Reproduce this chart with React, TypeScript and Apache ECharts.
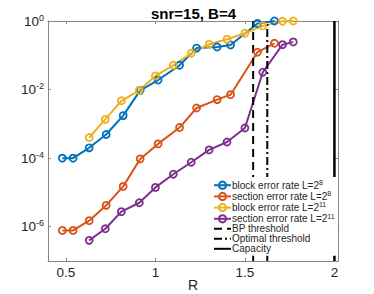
import React, { useEffect, useRef } from 'react';
import * as echarts from 'echarts';

// Rates R for L = 2^8 and L = 2^11 runs
const R_L8 = [0.48, 0.54, 0.63, 0.725, 0.82, 0.915, 1.015, 1.135, 1.23, 1.345, 1.42, 1.57, 1.665];
const R_L11 = [0.63, 0.72, 0.81, 0.91, 1.0, 1.1, 1.2, 1.3, 1.4, 1.5, 1.6, 1.71, 1.77];
// Error rates
const blockErrL8 = [1e-4, 1e-4, 2e-4, 4.9e-4, 1.74e-3, 9.5e-3, 1.9e-2, 5.1e-2, 0.162, 0.174, 0.2, 0.85, 1.0];
const sectionErrL8 = [7.8e-7, 7.8e-7, 1.5e-6, 4.2e-6, 1.5e-5, 9.5e-5, 2.6e-4, 7.8e-4, 2.9e-3, 5.1e-3, 7.1e-3, 0.123, 0.224];
const blockErrL11 = [4.0e-4, 1.35e-3, 4.7e-3, 9.5e-3, 2.5e-2, 5.1e-2, 0.115, 0.21, 0.295, 0.44, 0.72, 0.98, 1.0];
const sectionErrL11 = [4.0e-7, 8.7e-7, 2.75e-6, 5.0e-6, 1.4e-5, 3.4e-5, 7.6e-5, 1.74e-4, 2.95e-4, 7.6e-4, 3.2e-2, 0.204, 0.246];
// Thresholds
const BP_THRESHOLD = 1.546;
const OPTIMAL_THRESHOLD = 1.625;
const CAPACITY = 2;
// Axes
const X_RANGE = [0.4, 2.02];
const X_TICKS = [0.5, 1, 1.5, 2];
const Y_RANGE = [1e-7, 1];
const Y_TICK_VALUES = [1e-6, 1e-4, 1e-2, 1];
const SERIES_NAMES = [
  'block error rate L=2^8',
  'section error rate L=2^8',
  'block error rate L=2^11',
  'section error rate L=2^11',
  'BP threshold',
  'Optimal threshold',
  'Capacity',
];
const COLORS = ['#0072BD', '#D95319', '#EDB120', '#7E2F8E'];

const FONT = "'Liberation Sans', Arial, sans-serif";
const AXIS_COLOR = '#858585';
const TEXT_COLOR = '#262626';

export default function App() {
  const ref = useRef<HTMLDivElement>(null);

  useEffect(() => {
    if (!ref.current) return;
    const chart = echarts.init(ref.current, undefined, { renderer: 'svg' });
    const yLo = Math.log10(Y_RANGE[0]);
    const yHi = Math.log10(Y_RANGE[1]);
    const yTicks = Y_TICK_VALUES.map((v) => Math.log10(v));

    const dataSeries = (name: string, xs: number[], ys: number[], color: string) => ({
      name,
      type: 'line',
      data: xs.map((x, i) => [x, Math.log10(ys[i])]),
      symbol: 'circle',
      symbolSize: 7,
      showSymbol: true,
      clip: false,
      lineStyle: { color, width: 2 },
      itemStyle: { color: 'rgba(255,255,255,0)', borderColor: color, borderWidth: 1.8 },
      emphasis: { disabled: true },
    });
    const vline = (name: string, x: number, type: any, width: number) => ({
      name,
      type: 'line',
      data: [[x, yLo], [x, yHi]],
      symbol: 'none',
      clip: false,
      lineStyle: { color: '#000', width, type },
      itemStyle: { color: '#000', opacity: 0, borderWidth: 0 },
      emphasis: { disabled: true },
    });

    const axisCommon = {
      axisLine: { show: true, onZero: false, lineStyle: { color: AXIS_COLOR, width: 1 } },
      splitLine: { show: false },
    };

    chart.setOption({
      animation: false,
      title: {
        text: 'snr=15, B=4',
        left: 146,
        top: 1,
        textStyle: { fontFamily: FONT, fontSize: 15, fontWeight: 'bold', color: '#000' },
      },
      grid: { left: 48, right: 36, top: 21, bottom: 33, containLabel: false, outerBoundsMode: 'none' },
      legend: {
        orient: 'vertical',
        left: 211,
        top: 177,
        padding: [2, 3, 2, 2],
        itemGap: 0,
        itemWidth: 17,
        itemHeight: 9,
        backgroundColor: '#ffffff',
        data: SERIES_NAMES,
        formatter: (name: string) => {
          const m = name.match(/^(.*)\^(\d+)$/);
          if (m) return `{b|${m[1]}}{s|${m[2]}}`;
          return `{p|${name}}`;
        },
        textStyle: {
          fontFamily: FONT,
          fontSize: 10,
          color: TEXT_COLOR,
          padding: [0, 0, 0, -4],
          rich: {
            b: { fontFamily: FONT, fontSize: 10, lineHeight: 12.4, color: TEXT_COLOR },
            s: { fontFamily: FONT, fontSize: 7, lineHeight: 7, verticalAlign: 'top', color: TEXT_COLOR },
            p: { fontFamily: FONT, fontSize: 10, lineHeight: 9.2, color: TEXT_COLOR },
          },
        },
      },
      xAxis: [
        {
          type: 'value',
          min: X_RANGE[0],
          max: X_RANGE[1],
          position: 'bottom',
          ...axisCommon,
          name: 'R',
          nameLocation: 'middle',
          nameGap: 17,
          nameMoveOverlap: false,
          nameTextStyle: { fontFamily: FONT, fontSize: 14, color: TEXT_COLOR },
          axisTick: { show: true, inside: true, length: 3, customValues: X_TICKS, lineStyle: { color: AXIS_COLOR } },
          axisLabel: {
            customValues: X_TICKS,
            fontFamily: FONT,
            fontSize: 13.5,
            color: TEXT_COLOR,
            margin: 4,
            formatter: (v: number) => String(v),
          },
        },
        {
          type: 'value',
          min: X_RANGE[0],
          max: X_RANGE[1],
          position: 'top',
          ...axisCommon,
          axisTick: { show: true, inside: true, length: 3, customValues: X_TICKS, lineStyle: { color: AXIS_COLOR } },
          axisLabel: { show: false },
        },
      ],
      yAxis: [
        {
          type: 'value',
          min: yLo,
          max: yHi,
          position: 'left',
          ...axisCommon,
          axisTick: { show: true, inside: true, length: 3, customValues: yTicks, lineStyle: { color: AXIS_COLOR } },
          axisLabel: {
            customValues: yTicks,
            margin: 4,
            formatter: (v: number) => `{b|10}{s|${Math.round(v)}}`,
            rich: {
              b: { fontFamily: FONT, fontSize: 13.5, lineHeight: 16, color: TEXT_COLOR },
              s: { fontFamily: FONT, fontSize: 9, lineHeight: 8, verticalAlign: 'top', color: TEXT_COLOR },
            },
          },
        },
        {
          type: 'value',
          min: yLo,
          max: yHi,
          position: 'right',
          ...axisCommon,
          axisTick: { show: true, inside: true, length: 3, customValues: yTicks, lineStyle: { color: AXIS_COLOR } },
          axisLabel: { show: false },
        },
      ],
      series: [
        dataSeries(SERIES_NAMES[0], R_L8, blockErrL8, COLORS[0]),
        dataSeries(SERIES_NAMES[1], R_L8, sectionErrL8, COLORS[1]),
        dataSeries(SERIES_NAMES[2], R_L11, blockErrL11, COLORS[2]),
        dataSeries(SERIES_NAMES[3], R_L11, sectionErrL11, COLORS[3]),
        vline(SERIES_NAMES[4], BP_THRESHOLD, [8, 5], 2),
        vline(SERIES_NAMES[5], OPTIMAL_THRESHOLD, [8, 3, 2, 3], 2),
        vline(SERIES_NAMES[6], CAPACITY, 'solid', 2.5),
      ],
    });
    return () => chart.dispose();
  }, []);

  return (
    <div
      ref={ref}
      style={{ position: 'fixed', left: 0, top: 0, width: 374, height: 294, background: '#fff' }}
    />
  );
}
